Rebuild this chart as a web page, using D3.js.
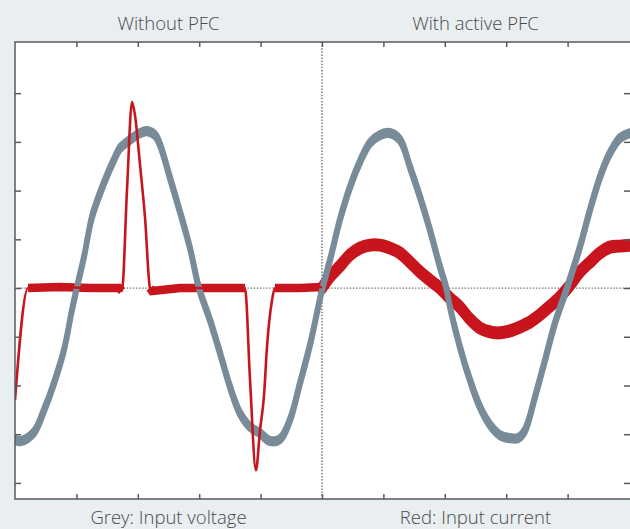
<!DOCTYPE html>
<html>
<head>
<meta charset="utf-8">
<script src="https://cdn.jsdelivr.net/npm/d3@7"></script>
<style>
  html, body { margin: 0; padding: 0; background: #e9eef1; }
  svg { display: block; }
</style>
</head>
<body>
<div id="chart"></div>
<script>
// time in ms (50 Hz mains, 5 ms per division), values in divisions
var titles = ["Without PFC", "With active PFC"];
var captions = ["Grey: Input voltage", "Red: Input current"];
var xTicks = [5, 10, 15, 20, 25, 30, 35, 40, 45];
var yTicks = [-4, -3, -2, -1, 0, 1, 2, 3, 4];

var voltT = [0, 0.49, 1.55, 2.36, 3.18, 3.99, 4.64, 5.05, 5.62, 6.27, 7.25, 8.06, 8.55, 9.36, 10.18, 10.75, 11.4, 11.81, 12.62, 13.44, 14.25, 14.98,
             15.88, 16.69, 17.51, 18.32, 19.14, 19.95, 20.76, 21.58, 22.39, 23.21, 24.02, 25.0,
             25.65, 26.46, 27.28, 28.09, 28.91, 29.72, 30.54, 31.35, 32.17, 32.98, 33.79, 34.61, 35.1, 35.42, 36.23, 37.05, 37.86, 38.68, 39.49,
             40.31, 40.96, 41.53, 42.34, 43.16, 43.97, 44.95, 46.0, 46.82, 47.64, 48.45, 49.27, 50.08];
var voltV = [-3.12, -3.14, -2.96, -2.51, -1.95, -1.27, -0.45, 0.02, 0.64, 1.46, 2.16, 2.63, 2.87, 3.04, 3.18, 3.22, 3.14, 2.94, 2.26, 1.56, 0.82, 0,
             -0.66, -1.33, -2.03, -2.57, -2.85, -2.98, -3.14, -3.10, -2.71, -1.95, -1.17, -0.04,
             0.57, 1.40, 2.07, 2.59, 2.98, 3.14, 3.18, 3.04, 2.48, 1.87, 1.19, 0.43, 0.02, -0.39, -1.21, -1.89, -2.44, -2.81, -3.02,
             -3.08, -3.08, -2.92, -2.24, -1.48, -0.72, 0, 0.84, 1.60, 2.28, 2.77, 3.08, 3.18];

// input current without PFC (left half)
var currT = [0, 1.06, 3.66, 6.11, 8.47, 8.71, 9.12, 9.53, 9.77, 10.18, 10.59, 10.99, 11.16, 13.44, 16.29, 18.73,
             19.14, 19.62, 19.95, 20.28, 20.52, 20.93, 21.17, 23.21, 25.0];
var currV = [-2.30, 0, 0.02, 0, 0, -0.06, 2.01, 3.82, 3.55, 2.53, 1.44, 0, -0.06, 0, 0, 0,
             -1.89, -3.74, -2.92, -2.20, -1.21, -0.25, 0, 0, 0.02];

// input current with active PFC (right half)
var pfcT = [25.0, 25.65, 26.46, 27.28, 28.09, 28.91, 29.72, 30.54, 31.35, 32.17, 32.98, 33.79, 34.61, 35.42, 36.23, 37.05, 37.86,
            38.68, 39.49, 40.31, 41.12, 41.94, 42.75, 43.57, 44.38, 45.20, 46.0, 46.82, 47.64, 48.45, 49.27, 50.08];
var pfcV = [0, 0.23, 0.45, 0.68, 0.82, 0.88, 0.88, 0.82, 0.72, 0.53, 0.33, 0.16, 0, -0.21, -0.39, -0.64, -0.82,
            -0.90, -0.92, -0.88, -0.80, -0.70, -0.55, -0.37, -0.18, 0.06, 0.33, 0.53, 0.72, 0.84, 0.86, 0.88];

var W = 630, H = 529;
var pL = 15, pR = 630, pT = 42, pB = 499;
var grey = "#778b98", red = "#c8151d", axisCol = "#5a5a5a";

var zip = function (ts, vs) { return ts.map(function (t, i) { return {t: t, v: vs[i]}; }); };
var volt = zip(voltT, voltV), curr = zip(currT, currV), pfc = zip(pfcT, pfcV);

var x = d3.scaleLinear().domain([0, 50]).range([pL, 629]);
var y = d3.scaleLinear().domain([-4.33, 5.05]).range([pB, pT]);

var svg = d3.select("#chart").append("svg")
	.attr("width", W)
	.attr("height", H)
	.style("font-family", "'Open Sans', 'Noto Sans', sans-serif");

svg.append("defs").append("clipPath").attr("id", "plot")
	.append("rect")
	.attr("x", pL).attr("y", pT)
	.attr("width", pR - pL).attr("height", pB - pT);

svg.append("rect")
	.attr("x", pL).attr("y", pT)
	.attr("width", pR - pL + 5).attr("height", pB - pT)
	.attr("fill", "#fff");

// dotted zero line and half divider
svg.append("line")
	.attr("x1", pL).attr("x2", pR)
	.attr("y1", y(0)).attr("y2", y(0))
	.attr("stroke", "#777").attr("stroke-width", 1.3)
	.attr("stroke-dasharray", "1.5,1.6");
svg.append("line")
	.attr("x1", x(25)).attr("x2", x(25))
	.attr("y1", pT).attr("y2", pB)
	.attr("stroke", "#666").attr("stroke-width", 1.3)
	.attr("stroke-dasharray", "1.5,1.6");

var g = svg.append("g").attr("clip-path", "url(#plot)");

var line = d3.line().x(function (d) { return x(d.t); }).y(function (d) { return y(d.v); }).curve(d3.curveMonotoneX);
var band = function (h) {
	return d3.area().x(function (d) { return x(d.t); })
		.y0(function (d) { return y(d.v) + h; })
		.y1(function (d) { return y(d.v) - h; })
		.curve(d3.curveCatmullRom.alpha(0.5));
};

// thick red where the rectifier is not conducting
g.append("path")
	.attr("d", d3.line().x(function (d) { return x(d.t); }).y(function (d) { return y(d.v); })
		.defined(function (d) { return Math.abs(d.v) < 0.1; })(curr))
	.attr("fill", "none").attr("stroke", red).attr("stroke-width", 8.5);

g.append("path")
	.attr("d", band(2)(pfc))
	.attr("fill", red).attr("stroke", red)
	.attr("stroke-width", 9).attr("stroke-linejoin", "round");

g.append("path")
	.attr("d", band(2.6)(volt))
	.attr("fill", grey).attr("stroke", grey)
	.attr("stroke-width", 5).attr("stroke-linejoin", "round");

g.append("path")
	.attr("d", line(curr))
	.attr("fill", "none").attr("stroke", red)
	.attr("stroke-width", 2.6).attr("stroke-linejoin", "round");

// frame ticks
var noLabel = function () { return ""; };
var styleAxis = function (sel) {
	sel.select(".domain").remove();
	sel.selectAll(".tick line").attr("stroke", axisCol).attr("stroke-width", 1.5);
};
svg.append("g").attr("transform", "translate(0," + pT + ")")
	.call(d3.axisBottom(x).tickValues(xTicks).tickSize(5).tickFormat(noLabel)).call(styleAxis);
svg.append("g").attr("transform", "translate(0," + pB + ")")
	.call(d3.axisTop(x).tickValues(xTicks).tickSize(5).tickFormat(noLabel)).call(styleAxis);
svg.append("g").attr("transform", "translate(" + pL + ",0)")
	.call(d3.axisRight(y).tickValues(yTicks).tickSize(6).tickFormat(noLabel)).call(styleAxis);
svg.append("g").attr("transform", "translate(" + pR + ",0)")
	.call(d3.axisLeft(y).tickValues(yTicks).tickSize(6).tickFormat(noLabel)).call(styleAxis);

svg.append("path")
	.attr("d", "M" + (pR + 2) + "," + pT + "H" + pL + "V" + pB + "H" + (pR + 2))
	.attr("fill", "none").attr("stroke", axisCol).attr("stroke-width", 1.5);

var halves = [(x(0) + x(25)) / 2, (x(25) + x(50)) / 2];
svg.selectAll("text.title").data(titles).enter().append("text")
	.attr("class", "title")
	.attr("x", function (d, i) { return halves[i]; })
	.attr("y", 30)
	.attr("text-anchor", "middle")
	.attr("font-size", 18.5)
	.attr("font-weight", 300)
	.attr("fill", "#4a4a4a")
	.text(function (d) { return d; });
svg.selectAll("text.caption").data(captions).enter().append("text")
	.attr("class", "caption")
	.attr("x", function (d, i) { return halves[i]; })
	.attr("y", 524)
	.attr("text-anchor", "middle")
	.attr("font-size", 18.5)
	.attr("font-weight", 300)
	.attr("fill", "#4a4a4a")
	.text(function (d) { return d; });
</script>
</body>
</html>
